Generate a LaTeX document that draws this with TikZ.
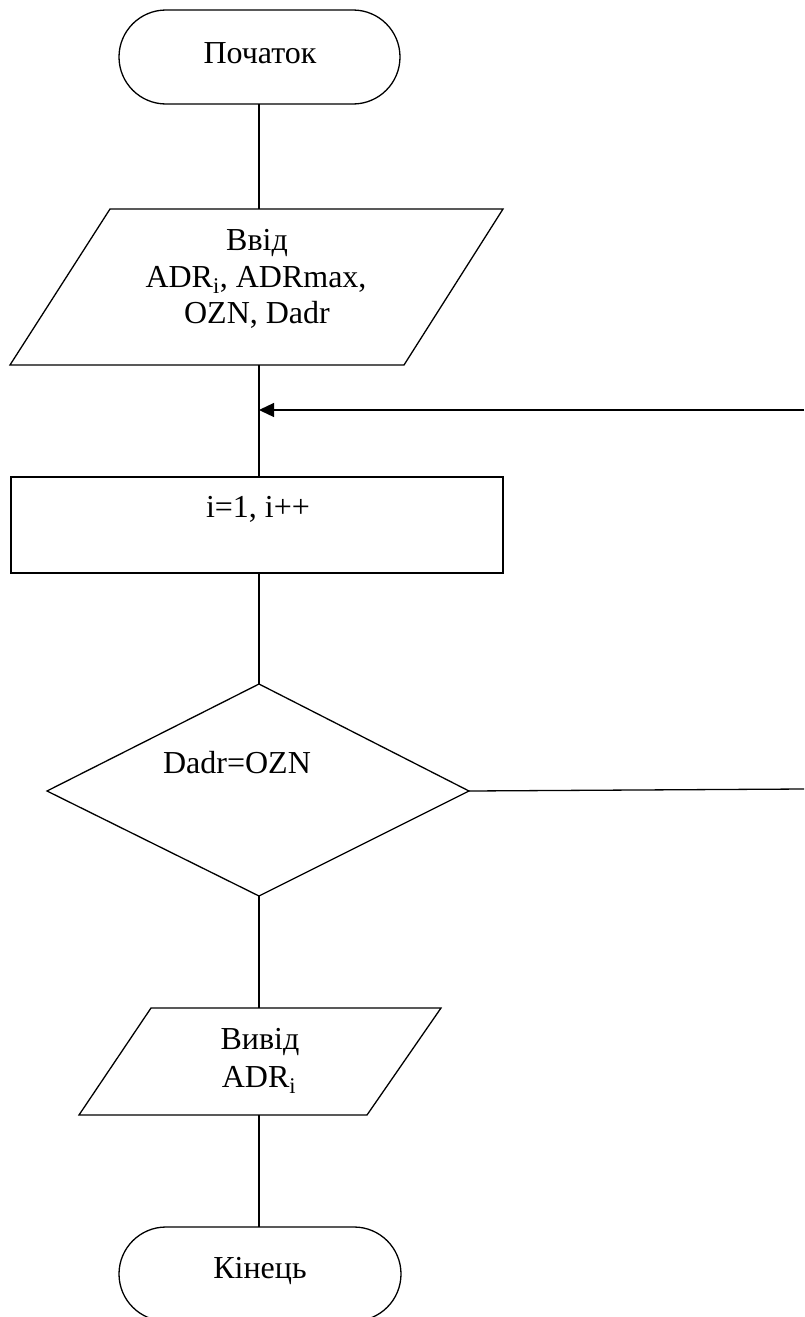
\documentclass[tikz,border=0pt]{standalone}
\usepackage{fontspec}
\setmainfont{Liberation Serif}
\usetikzlibrary{arrows.meta}
\begin{document}
\begin{tikzpicture}[x=1pt,y=-1pt,line width=1.3pt,
  outline/.style={draw=black,line join=miter},
  lbl/.style={anchor=base,inner sep=0pt,font=\fontsize{32}{37}\selectfont},
  flow/.style={draw=black},
  loopflow/.style={draw=black,-{Triangle[length=15pt,width=14pt]}}]
\useasboundingbox (0,0) rectangle (804,1317);
% start terminator
\draw[outline,rounded corners=47] (119,10) rectangle (400,104);
\node[lbl] (tstart) at (260,63) {Початок};
\coordinate (startB) at (259,104);
% input
\draw[outline] (110,209) -- (503,209) -- (404,365) -- (10,365) -- cycle;
\node[lbl] (inL1) at (257,250) {Ввід};
\node[lbl] (inL2) at (256,287) {ADR\textsubscript{i}, ADRmax,};
\node[lbl] (inL3) at (257,323) {OZN, Dadr};
\coordinate (inT) at (259,209);
\coordinate (inB) at (259,365);
% join point
\coordinate (join) at (259,410);
% loop box
\draw[outline] (11,477) rectangle (503,573);
\node[lbl] (loopL) at (258,517) {i=1, i++};
\coordinate (loopT) at (259,477);
\coordinate (loopB) at (259,573);
% decision
\draw[outline] (259,684) -- (469,791) -- (259,896) -- (47,791) -- cycle;
\node[lbl] (decL) at (237,773) {Dadr=OZN};
\coordinate (decT) at (259,684);
\coordinate (decR) at (469,791);
\coordinate (decB) at (259,896);
% output
\draw[outline] (151,1008) -- (441,1008) -- (367,1115) -- (79,1115) -- cycle;
\node[lbl] (outL1) at (260,1049) {Вивід};
\node[lbl] (outL2) at (259,1087) {ADR\textsubscript{i}};
\coordinate (outT) at (259,1008);
\coordinate (outB) at (259,1115);
% end terminator
\draw[outline,rounded corners=47] (119,1227) rectangle (401,1321);
\node[lbl] (tend) at (260,1278) {Кінець};
\coordinate (endT) at (259,1227);
% loop edges (off the picture)
\coordinate (edgeTop) at (804,410);
\coordinate (edgeDec) at (804,789);
% connectors
\draw[flow] (startB) -- (inT);
\draw[flow] (inB) -- (join) -- (loopT);
\draw[loopflow] (edgeTop) -- (join);
\draw[flow] (loopB) -- (decT);
\draw[flow] (decR) -- (edgeDec);
\draw[flow] (decB) -- (outT);
\draw[flow] (outB) -- (endT);
\end{tikzpicture}
\end{document}
